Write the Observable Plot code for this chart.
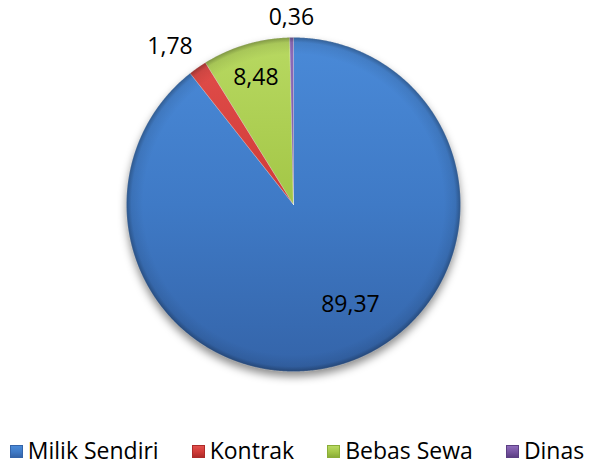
<!DOCTYPE html>
<html>
<head>
<meta charset="utf-8">
<script src="https://cdn.jsdelivr.net/npm/d3@7"></script>
<script src="https://cdn.jsdelivr.net/npm/@observablehq/plot@0.6"></script>
<style>
  html, body { margin: 0; padding: 0; background: #fff; }
  #chart { position: relative; width: 590px; height: 465px; font-family: "Open Sans", sans-serif; overflow: hidden; }
  #legend { position: absolute; left: 0px; top: 436px; width: 594px; height: 28px; display: flex; justify-content: center; align-items: center; gap: 33px; font-size: 23px; line-height: 28px; color: #000; white-space: nowrap; }
  .item { display: flex; align-items: center; gap: 5px; }
  .sw { width: 13px; height: 13px; margin-top: 2px; box-sizing: border-box; }
</style>
</head>
<body>
<div id="chart"></div>
<script>
// ---- data ----
const categories = ["Milik Sendiri", "Kontrak", "Bebas Sewa", "Dinas"];
const values = [89.37, 1.78, 8.48, 0.36];
const valueLabels = ["89,37", "1,78", "8,48", "0,36"];
const baseColors = ["#3f7ac6", "#d03a37", "#a3c646", "#7653a0"];
const lightColors = ["#4a8ad8", "#e2504c", "#b8d962", "#8e6cbb"];
const darkColors = ["#3464a9", "#ad2b29", "#8aad37", "#5c3f84"];

// ---- layout ----
const W = 590, H = 420;
const mL = 126, mR = 130, mT = 37, mB = 49;

// ---- geometry from data ----
const arcs = d3.pie().sort(null).value((d, i) => values[i])(categories);

const sliceRows = arcs.map((p, i) => {
  const pts = [{x: 0, y: 0}];
  const n = Math.max(2, Math.ceil((p.endAngle - p.startAngle) / (Math.PI / 720)));
  for (let k = 0; k <= n; k++) {
    const a = p.startAngle + (p.endAngle - p.startAngle) * k / n;
    pts.push({x: Math.sin(a), y: Math.cos(a)});
  }
  pts.push({x: 0, y: 0});
  return pts;
});

const circleRows = d3.range(0, 721).map(k => {
  const a = k / 720 * 2 * Math.PI;
  return {x: Math.sin(a), y: Math.cos(a)};
});

// label placement (Excel "best fit" style)
const labelRadius = [0.69, 1.20, 0.79, 1.12];
const labelShift = [-10.5, -3, 0, 0];
const labelRows = arcs.map((p, i) => {
  const a = (p.startAngle + p.endAngle) / 2 + labelShift[i] * Math.PI / 180;
  return {x: labelRadius[i] * Math.sin(a), y: labelRadius[i] * Math.cos(a), label: valueLabels[i]};
});

const plot = Plot.plot({
  width: W, height: H,
  marginLeft: mL, marginRight: mR, marginTop: mT, marginBottom: mB,
  x: {domain: [-1, 1], axis: null},
  y: {domain: [-1, 1], axis: null},
  style: {fontFamily: "Open Sans, sans-serif", background: "transparent", overflow: "visible"},
  marks: [
    Plot.line(circleRows, {x: "x", y: "y", fill: "rgba(0,0,0,0.45)", stroke: "none", dy: 5}),
    ...sliceRows.map((rows, i) => Plot.line(rows, {
      x: "x", y: "y", fill: `url(#grad${i})`,
      stroke: "rgba(255,255,255,0.35)", strokeWidth: 0.8, strokeLinejoin: "round"
    })),
    Plot.line(circleRows, {x: "x", y: "y", fill: "url(#rim)", stroke: "none"}),
    Plot.text(labelRows, {x: "x", y: "y", text: "label", fontSize: 23, fill: "#000"})
  ]
});

// gradients & shadow filter
const svg = d3.select(plot);
const sx = plot.scale("x"), sy = plot.scale("y");
const cx = sx.apply(0), cy = sy.apply(0), R = sx.apply(1) - cx;
const defs = svg.insert("defs", ":first-child");
categories.forEach((c, i) => {
  const g = defs.append("linearGradient").attr("id", `grad${i}`)
    .attr("gradientUnits", "userSpaceOnUse")
    .attr("x1", cx).attr("y1", cy - R).attr("x2", cx).attr("y2", cy + R);
  g.append("stop").attr("offset", "0%").attr("stop-color", lightColors[i]);
  g.append("stop").attr("offset", "50%").attr("stop-color", baseColors[i]);
  g.append("stop").attr("offset", "100%").attr("stop-color", darkColors[i]);
});
const rim = defs.append("radialGradient").attr("id", "rim")
  .attr("gradientUnits", "userSpaceOnUse").attr("cx", cx).attr("cy", cy).attr("r", R);
rim.append("stop").attr("offset", "0%").attr("stop-color", "#000").attr("stop-opacity", 0);
rim.append("stop").attr("offset", "90%").attr("stop-color", "#000").attr("stop-opacity", 0);
rim.append("stop").attr("offset", "97%").attr("stop-color", "#000").attr("stop-opacity", 0.08);
rim.append("stop").attr("offset", "100%").attr("stop-color", "#000").attr("stop-opacity", 0.3);
const f = defs.append("filter").attr("id", "blur").attr("x", "-20%").attr("y", "-20%").attr("width", "140%").attr("height", "140%");
f.append("feGaussianBlur").attr("stdDeviation", 4);
svg.select("g[aria-label='line']").attr("filter", "url(#blur)");

const chart = document.getElementById("chart");
chart.appendChild(plot);

// legend
const legend = document.createElement("div");
legend.id = "legend";
categories.forEach((c, i) => {
  const item = document.createElement("div");
  item.className = "item";
  const sw = document.createElement("span");
  sw.className = "sw";
  sw.style.background = `linear-gradient(180deg, ${lightColors[i]} 0%, ${baseColors[i]} 55%, ${darkColors[i]} 100%)`;
  sw.style.border = `1px solid ${darkColors[i]}`;
  const t = document.createElement("span");
  t.textContent = c;
  item.appendChild(sw); item.appendChild(t);
  legend.appendChild(item);
});
chart.appendChild(legend);
</script>
</body>
</html>
